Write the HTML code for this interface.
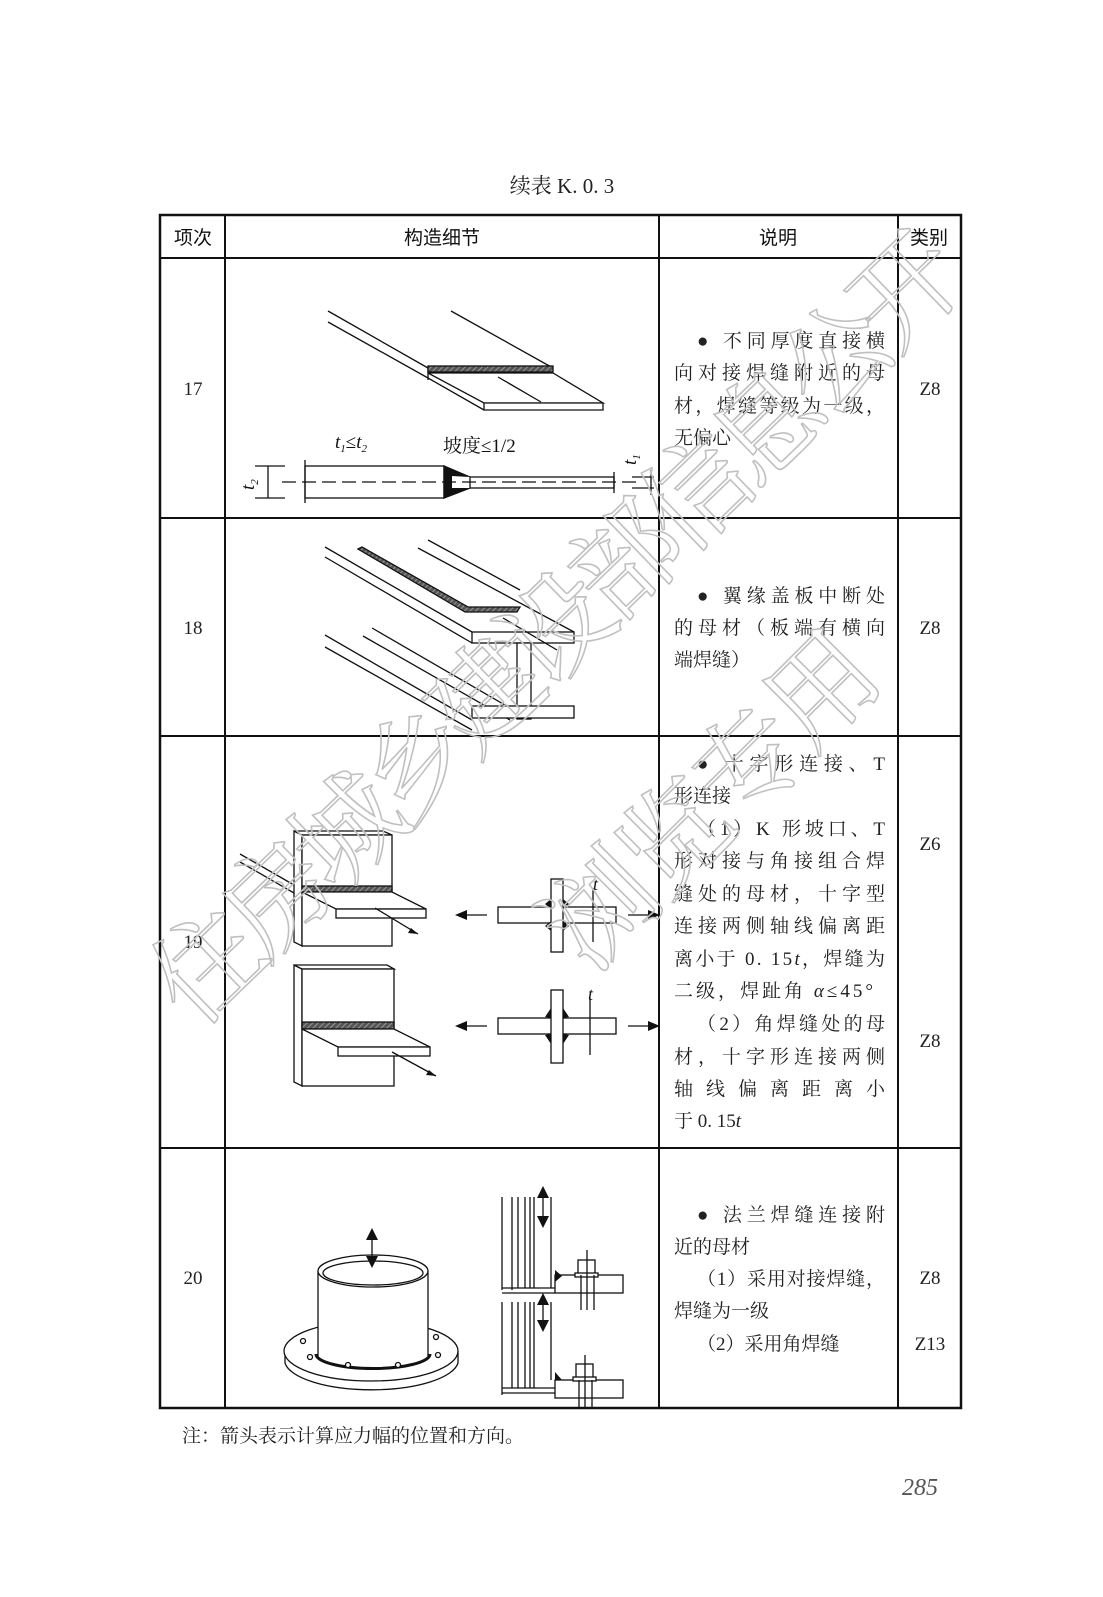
<!DOCTYPE html>
<html><head><meta charset="utf-8"><style>
html,body{margin:0;padding:0;background:#fff;overflow:hidden;width:1103px;height:1597px;}
svg{display:block;position:absolute;left:0;top:0;}
</style></head><body>
<svg width="1103" height="1597" viewBox="0 0 1103 1597" xmlns="http://www.w3.org/2000/svg" font-family="'Liberation Serif','Noto Serif CJK SC',serif">
<defs>
<pattern id="h" width="4" height="4" patternUnits="userSpaceOnUse" patternTransform="rotate(45)"><rect width="4" height="4" fill="#555"/><line x1="0" y1="0" x2="0" y2="4" stroke="#aaa" stroke-width="1.5"/></pattern>
</defs>
<text x="562" y="193" font-size="21" text-anchor="middle" fill="#222">续表 K. 0. 3</text>
<g stroke="#111" fill="none">
<rect x="160" y="215" width="801" height="1193" stroke-width="2.5"/>
<line x1="160" y1="258" x2="961" y2="258" stroke-width="2"/>
<line x1="160" y1="518" x2="961" y2="518" stroke-width="2"/>
<line x1="160" y1="736" x2="961" y2="736" stroke-width="2"/>
<line x1="160" y1="1148" x2="961" y2="1148" stroke-width="2"/>
<line x1="225" y1="215" x2="225" y2="1408" stroke-width="2"/>
<line x1="659" y1="215" x2="659" y2="1408" stroke-width="2"/>
<line x1="898" y1="215" x2="898" y2="1408" stroke-width="2"/>
</g>
<g font-size="19" fill="#111" font-family="'Liberation Sans','Noto Sans CJK SC',sans-serif" text-anchor="middle">
<text x="193" y="244">项次</text><text x="442" y="244">构造细节</text><text x="778" y="244">说明</text><text x="929" y="244">类别</text>
</g>
<g font-size="19" fill="#222" text-anchor="middle">
<text x="193" y="395">17</text><text x="193" y="634">18</text><text x="193" y="948">19</text><text x="193" y="1284">20</text>
<text x="930" y="395">Z8</text><text x="930" y="634">Z8</text><text x="930" y="850">Z6</text><text x="930" y="1047">Z8</text><text x="930" y="1284">Z8</text><text x="930" y="1350">Z13</text>
</g>
<g font-size="19" fill="#222">
<text x="697" y="347" textLength="188" lengthAdjust="spacing">● 不同厚度直接横</text>
<text x="674" y="379" textLength="211" lengthAdjust="spacing">向对接焊缝附近的母</text>
<text x="674" y="412" textLength="211" lengthAdjust="spacing">材，焊缝等级为一级，</text>
<text x="674" y="444">无偏心</text>
<text x="697" y="602" textLength="188" lengthAdjust="spacing">● 翼缘盖板中断处</text>
<text x="674" y="634" textLength="211" lengthAdjust="spacing">的母材（板端有横向</text>
<text x="674" y="666">端焊缝）</text>
<text x="697" y="770" textLength="188" lengthAdjust="spacing">● 十字形连接、T</text>
<text x="674" y="802">形连接</text>
<text x="697" y="835" textLength="188" lengthAdjust="spacing">（1）K 形坡口、T</text>
<text x="674" y="867" textLength="211" lengthAdjust="spacing">形对接与角接组合焊</text>
<text x="674" y="900" textLength="211" lengthAdjust="spacing">缝处的母材，十字型</text>
<text x="674" y="932" textLength="211" lengthAdjust="spacing">连接两侧轴线偏离距</text>
<text x="674" y="965" textLength="211" lengthAdjust="spacing">离小于 0. 15<tspan font-style="italic">t</tspan>，焊缝为</text>
<text x="674" y="997" textLength="199" lengthAdjust="spacing">二级，焊趾角 <tspan font-style="italic">α</tspan>≤45°</text>
<text x="697" y="1030" textLength="188" lengthAdjust="spacing">（2）角焊缝处的母</text>
<text x="674" y="1063" textLength="211" lengthAdjust="spacing">材，十字形连接两侧</text>
<text x="674" y="1095" textLength="211" lengthAdjust="spacing">轴线偏离距离小</text>
<text x="674" y="1127">于 0. 15<tspan font-style="italic">t</tspan></text>
<text x="697" y="1221" textLength="188" lengthAdjust="spacing">● 法兰焊缝连接附</text>
<text x="674" y="1253">近的母材</text>
<text x="697" y="1285" textLength="188" lengthAdjust="spacing">（1）采用对接焊缝，</text>
<text x="674" y="1317">焊缝为一级</text>
<text x="697" y="1350">（2）采用角焊缝</text>
</g>
<text x="182" y="1442" font-size="19" fill="#222">注：箭头表示计算应力幅的位置和方向。</text>
<text x="938" y="1495" font-size="24" font-style="italic" fill="#555" text-anchor="end">285</text>

<g stroke="#111" stroke-width="1.3" fill="#fff">
<line x1="328" y1="311" x2="428" y2="368"/><line x1="328" y1="322" x2="428" y2="378"/>
<line x1="451" y1="311" x2="553" y2="368"/>
<polygon points="428,373 553,373 603,403 484,403"/>
<polygon points="484,403 603,403 603,410 484,410"/>
<line x1="428" y1="378" x2="484" y2="410"/>
<line x1="428" y1="368" x2="428" y2="380"/>
<rect x="428" y="366" width="125" height="6" fill="url(#h)"/>
<line x1="498" y1="377" x2="541" y2="402"/>
<rect x="305" y="466" width="139" height="32"/>
<polygon points="444,466 470,477 470,488 444,498" fill="#111"/>
<polygon points="452,476 470,477 470,488 452,488" fill="#fff" stroke="none"/>
<rect x="470" y="477" width="144" height="11"/>
<line x1="255" y1="466" x2="285" y2="466"/><line x1="255" y1="498" x2="285" y2="498"/>
<line x1="268" y1="466" x2="268" y2="498"/>
<line x1="305" y1="460" x2="305" y2="503"/>
<line x1="614" y1="472" x2="614" y2="493"/>
<line x1="632" y1="477" x2="654" y2="477"/><line x1="632" y1="488" x2="654" y2="488"/>
<line x1="651" y1="470" x2="651" y2="495"/>
<line x1="282" y1="482" x2="640" y2="482" stroke-dasharray="14,6" fill="none"/>
</g>
<g font-size="19" fill="#111">
<text x="335" y="448" font-style="italic">t<tspan font-size="11" dy="4">1</tspan><tspan dy="-4" font-style="normal">≤</tspan>t<tspan font-size="11" dy="4">2</tspan></text>
<text x="443" y="452">坡度≤1/2</text>
<text x="0" y="0" font-style="italic" transform="translate(254,490) rotate(-90)">t<tspan font-size="11" dy="4">2</tspan></text>
<text x="0" y="0" font-style="italic" transform="translate(636,465) rotate(-90)">t<tspan font-size="11" dy="4">1</tspan></text>
</g>

<g stroke="#111" stroke-width="1.3" fill="#fff">
<line x1="325" y1="547" x2="472" y2="632"/><line x1="325" y1="557" x2="472" y2="643"/>
<line x1="418" y1="548" x2="574" y2="632"/><line x1="428" y1="540" x2="520" y2="590"/>
<line x1="325" y1="635" x2="472" y2="720"/><line x1="325" y1="647" x2="472" y2="730"/>
<line x1="372" y1="628" x2="517" y2="712"/><line x1="363" y1="636" x2="510" y2="720"/>
<polygon points="358,549 362,547 468,607 520,607 517,612 465,612" fill="url(#h)"/>
<rect x="472" y="632" width="102" height="11"/>
<rect x="517" y="643" width="14" height="76"/>
<rect x="472" y="706" width="102" height="12"/>
<line x1="503" y1="618" x2="557" y2="650"/>
</g>

<g stroke="#111" stroke-width="1.3" fill="#fff">
<line x1="240" y1="854" x2="294" y2="885"/><line x1="240" y1="862" x2="294" y2="893"/>
<polygon points="294,831 302,835 302,946 294,942"/>
<polygon points="294,831 383,831 392,835 302,835"/>
<rect x="302" y="835" width="90" height="111"/>
<rect x="302" y="886" width="90" height="6" fill="url(#h)"/>
<polygon points="302,892 392,892 426,909 336,909"/>
<rect x="336" y="909" width="90" height="9"/>
<line x1="375" y1="908" x2="418" y2="934"/>
<polygon points="294,965 302,969 302,1086 294,1082"/>
<polygon points="294,965 387,965 394,969 302,969"/>
<rect x="302" y="969" width="92" height="117"/>
<rect x="302" y="1022" width="92" height="7" fill="url(#h)"/>
<polygon points="302,1029 394,1029 430,1047 338,1047"/>
<rect x="338" y="1047" width="92" height="9"/>
<line x1="392" y1="1052" x2="436" y2="1076"/>
<rect x="498" y="907" width="118" height="16"/>
<rect x="551" y="879" width="12" height="73"/>
<rect x="498" y="1018" width="118" height="16"/>
<rect x="551" y="990" width="12" height="73"/>
<line x1="462" y1="915" x2="487" y2="915"/><line x1="628" y1="915" x2="652" y2="915"/>
<line x1="462" y1="1026" x2="487" y2="1026"/><line x1="628" y1="1026" x2="652" y2="1026"/>
<line x1="593" y1="888" x2="593" y2="942"/><line x1="590" y1="998" x2="590" y2="1055"/>
</g>
<g fill="#111">
<polygon points="545,904 551,899 551,909"/><polygon points="569,904 563,899 563,909"/>
<polygon points="545,926 551,921 551,931"/><polygon points="569,926 563,921 563,931"/>
<polygon points="545,1017 551,1008 551,1018"/><polygon points="569,1017 563,1008 563,1018"/>
<polygon points="545,1035 551,1034 551,1044"/><polygon points="569,1035 563,1034 563,1044"/>
<polygon points="455,915 467,910 467,920"/><polygon points="660,915 648,910 648,920"/>
<polygon points="455,1026 467,1021 467,1031"/><polygon points="660,1026 648,1021 648,1031"/>
<polygon points="418,934 408,933 411,928"/><polygon points="436,1076 426,1075 429,1070"/>
<text x="593" y="890" font-size="18" font-style="italic">t</text>
<text x="588" y="1000" font-size="18" font-style="italic">t</text>
</g>

<g stroke="#111" stroke-width="1.3" fill="#fff">
<path d="M285,1351 L285,1363 A87,30 0 0 0 458,1363 L458,1351"/>
<ellipse cx="371" cy="1351" rx="87" ry="30"/>
<rect x="318" y="1271" width="110" height="85" stroke="none"/>
<line x1="318" y1="1271" x2="318" y2="1356"/><line x1="428" y1="1271" x2="428" y2="1356"/>
<path d="M316,1354 A55,14 0 0 0 430,1354" stroke-width="3" fill="none"/>
<ellipse cx="373" cy="1271" rx="55" ry="16"/>
<ellipse cx="373" cy="1273" rx="50" ry="12"/>
<circle cx="303" cy="1341" r="2.5"/><circle cx="310" cy="1357" r="2.5"/><circle cx="348" cy="1365" r="2.5"/><circle cx="398" cy="1365" r="2.5"/><circle cx="438" cy="1355" r="2.5"/><circle cx="436" cy="1337" r="2.5"/>
<line x1="372" y1="1232" x2="372" y2="1264"/>
<line x1="502" y1="1197" x2="502" y2="1290"/><line x1="512" y1="1197" x2="512" y2="1290"/><line x1="518" y1="1197" x2="518" y2="1288"/><line x1="525" y1="1197" x2="525" y2="1288"/><line x1="530" y1="1197" x2="530" y2="1288"/><line x1="534" y1="1197" x2="534" y2="1288"/>
<line x1="551" y1="1197" x2="551" y2="1288"/>
<line x1="502" y1="1302" x2="502" y2="1395"/><line x1="512" y1="1302" x2="512" y2="1388"/><line x1="518" y1="1302" x2="518" y2="1388"/><line x1="525" y1="1302" x2="525" y2="1388"/><line x1="530" y1="1302" x2="530" y2="1388"/><line x1="534" y1="1302" x2="534" y2="1388"/>
<line x1="551" y1="1302" x2="551" y2="1380"/>
<line x1="502" y1="1288" x2="555" y2="1288"/><line x1="502" y1="1293" x2="555" y2="1293"/>
<line x1="502" y1="1388" x2="555" y2="1388"/><line x1="502" y1="1393" x2="555" y2="1393"/>
<rect x="555" y="1275" width="68" height="18"/><rect x="555" y="1380" width="68" height="18"/>
<rect x="578" y="1260" width="17" height="15"/><rect x="575" y="1273" width="23" height="4"/>
<rect x="576" y="1364" width="17" height="15"/><rect x="573" y="1377" width="23" height="4"/>
<line x1="581" y1="1275" x2="581" y2="1310"/><line x1="594" y1="1275" x2="594" y2="1310"/><line x1="587" y1="1250" x2="587" y2="1310"/>
<line x1="579" y1="1380" x2="579" y2="1408"/><line x1="592" y1="1380" x2="592" y2="1408"/><line x1="585" y1="1355" x2="585" y2="1408"/>
<line x1="543" y1="1190" x2="543" y2="1224"/><line x1="543" y1="1298" x2="543" y2="1328"/>
</g>
<g fill="#111">
<polygon points="372,1228 366,1240 378,1240"/><polygon points="372,1268 366,1256 378,1256"/>
<polygon points="543,1186 537,1198 549,1198"/><polygon points="543,1228 537,1216 549,1216"/>
<polygon points="543,1293 537,1305 549,1305"/><polygon points="543,1332 537,1320 549,1320"/>
<polygon points="555,1270 555,1282 562,1276"/><polygon points="555,1372 555,1380 562,1380"/>
</g>

<g fill="none" stroke="#c0c0c0" stroke-width="1.6" font-family="'Noto Serif CJK SC','Noto Sans CJK SC',serif" font-size="108">
<text x="0" y="0" transform="translate(195,1030) rotate(-44)" textLength="1080" lengthAdjust="spacing">住房城乡建设部信息公开</text>
<text x="0" y="0" transform="translate(590,975) rotate(-45)" textLength="420" lengthAdjust="spacing">浏览专用</text>
</g>
</svg>
</body></html>
